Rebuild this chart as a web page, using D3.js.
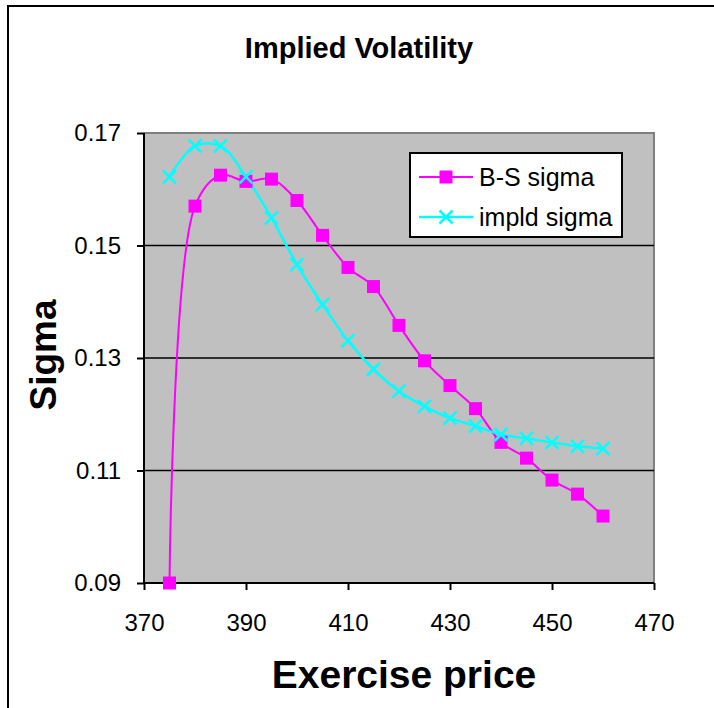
<!DOCTYPE html>
<html>
<head>
<meta charset="utf-8">
<script src="https://cdn.jsdelivr.net/npm/d3@7"></script>
<style>
  body { margin: 0; background: #fff; }
  text { font-family: "Liberation Sans", Arial, sans-serif; }
</style>
</head>
<body>
<div id="chart"></div>
<script>
// exercise prices
const strikes = [375, 380, 385, 390, 395, 400, 405, 410, 415, 420, 425, 430, 435, 440, 445, 450, 455, 460];
// Black-Scholes sigma
const bsSigma = [0.0900, 0.1570, 0.1625, 0.1614, 0.1618, 0.1580, 0.1518, 0.1461, 0.1427, 0.1358, 0.1295, 0.1251, 0.1210, 0.1150, 0.1122, 0.1083, 0.1058, 0.1019];
// implied sigma
const impSigma = [0.1622, 0.1677, 0.1677, 0.1622, 0.1549, 0.1466, 0.1395, 0.1331, 0.1280, 0.1241, 0.1214, 0.1193, 0.1179, 0.1164, 0.1157, 0.1150, 0.1143, 0.1139];

const xTicks = [370, 390, 410, 430, 450, 470];
const yTicks = [0.09, 0.11, 0.13, 0.15, 0.17];
const seriesNames = ["B-S sigma", "impld sigma"];

const W = 714, H = 708;
const margin = { top: 133, right: 60, bottom: 124, left: 144 };
const iw = W - margin.left - margin.right;
const ih = H - margin.top - margin.bottom - 1;

const svg = d3.select("#chart").append("svg")
  .attr("width", W)
  .attr("height", H);

// outer chart border (continues past the window)
svg.append("rect")
  .attr("x", 8).attr("y", 6)
  .attr("width", W + 20).attr("height", H + 20)
  .attr("fill", "#fff")
  .attr("stroke", "#000")
  .attr("stroke-width", 2);

const g = svg.append("g").attr("transform", `translate(${margin.left},${margin.top})`);

const x = d3.scaleLinear().domain([370, 470]).range([0, iw]);
const y = d3.scaleLinear().domain([0.09, 0.17]).range([ih, 0]);

// plot area
g.append("rect")
  .attr("width", iw).attr("height", ih)
  .attr("fill", "#c0c0c0");

// top + right border in grey
g.append("path")
  .attr("d", `M0,0H${iw}V${ih}`)
  .attr("fill", "none")
  .attr("stroke", "#808080")
  .attr("stroke-width", 2);

// gridlines
g.selectAll(".grid")
  .data(yTicks.filter(d => d > 0.09 && d < 0.17))
  .enter().append("line")
  .attr("class", "grid")
  .attr("x1", 0).attr("x2", iw)
  .attr("y1", d => y(d)).attr("y2", d => y(d))
  .attr("stroke", "#000")
  .attr("stroke-width", 1.5);

// axes
const yAxis = g.append("g")
  .call(d3.axisLeft(y).tickValues(yTicks).tickSize(7).tickPadding(16).tickFormat(d3.format(".2f")));
const xAxis = g.append("g")
  .attr("transform", `translate(0,${ih})`)
  .call(d3.axisBottom(x).tickValues(xTicks).tickSize(7).tickPadding(24).tickFormat(d3.format("d")));

[yAxis, xAxis].forEach(a => {
  a.select(".domain").attr("stroke", "#000").attr("stroke-width", 2);
  a.selectAll(".tick line").attr("stroke", "#000").attr("stroke-width", 2);
  a.selectAll(".tick text")
    .attr("fill", "#000")
    .style("font-size", "24px")
    .style("font-family", '"Liberation Sans", Arial, sans-serif');
});
// y axis domain has outer ticks from d3 - keep them flat
yAxis.select(".domain").attr("d", `M0,${ih}V0`);
xAxis.select(".domain").attr("d", `M0,0H${iw}`);

const curve = d3.curveCatmullRom.alpha(0.5);

const bsData = strikes.map((k, i) => [k, bsSigma[i]]);
const impData = strikes.map((k, i) => [k, impSigma[i]]);

const line = d3.line()
  .x(d => x(d[0]))
  .y(d => y(d[1]))
  .curve(curve);

g.append("path")
  .datum(bsData)
  .attr("d", line)
  .attr("fill", "none")
  .attr("stroke", "#ff00ff")
  .attr("stroke-width", 2);

g.append("path")
  .datum(impData)
  .attr("d", line)
  .attr("fill", "none")
  .attr("stroke", "#00ffff")
  .attr("stroke-width", 2.5);

const sq = 13, xs = 6.5;

g.selectAll(".bs")
  .data(bsData)
  .enter().append("rect")
  .attr("class", "bs")
  .attr("x", d => x(d[0]) - sq / 2)
  .attr("y", d => y(d[1]) - sq / 2)
  .attr("width", sq).attr("height", sq)
  .attr("fill", "#ff00ff");

g.selectAll(".imp")
  .data(impData)
  .enter().append("path")
  .attr("class", "imp")
  .attr("d", d => {
    const cx = x(d[0]), cy = y(d[1]);
    return `M${cx - xs},${cy - xs}L${cx + xs},${cy + xs}M${cx - xs},${cy + xs}L${cx + xs},${cy - xs}`;
  })
  .attr("stroke", "#00ffff")
  .attr("stroke-width", 2.5);

// legend
const legend = svg.append("g").attr("transform", "translate(410,153)");
legend.append("rect")
  .attr("width", 212).attr("height", 84)
  .attr("fill", "#fff")
  .attr("stroke", "#000")
  .attr("stroke-width", 2);

const colors = ["#ff00ff", "#00ffff"];
seriesNames.forEach((name, i) => {
  const ly = 24 + i * 40;
  const item = legend.append("g").attr("transform", `translate(0,${ly})`);
  item.append("line")
    .attr("x1", 9).attr("x2", 63)
    .attr("y1", 0).attr("y2", 0)
    .attr("stroke", colors[i])
    .attr("stroke-width", i === 0 ? 2 : 2.5);
  if (i === 0) {
    item.append("rect")
      .attr("x", 36 - sq / 2).attr("y", -sq / 2)
      .attr("width", sq).attr("height", sq)
      .attr("fill", colors[i]);
  } else {
    item.append("path")
      .attr("d", `M${36 - xs},${-xs}L${36 + xs},${xs}M${36 - xs},${xs}L${36 + xs},${-xs}`)
      .attr("stroke", colors[i])
      .attr("stroke-width", 2.5);
  }
  item.append("text")
    .attr("x", 69).attr("y", 0)
    .attr("dy", "0.35em")
    .style("font-size", "25px")
    .text(name);
});

// titles
svg.append("text")
  .attr("x", 359).attr("y", 58)
  .attr("text-anchor", "middle")
  .style("font-size", "29px")
  .style("font-weight", "bold")
  .text("Implied Volatility");

svg.append("text")
  .attr("x", 404).attr("y", 688)
  .attr("text-anchor", "middle")
  .style("font-size", "39px")
  .style("font-weight", "bold")
  .text("Exercise price");

svg.append("text")
  .attr("transform", "translate(56,355) rotate(-90)")
  .attr("text-anchor", "middle")
  .style("font-size", "37px")
  .style("font-weight", "bold")
  .text("Sigma");
</script>
</body>
</html>
